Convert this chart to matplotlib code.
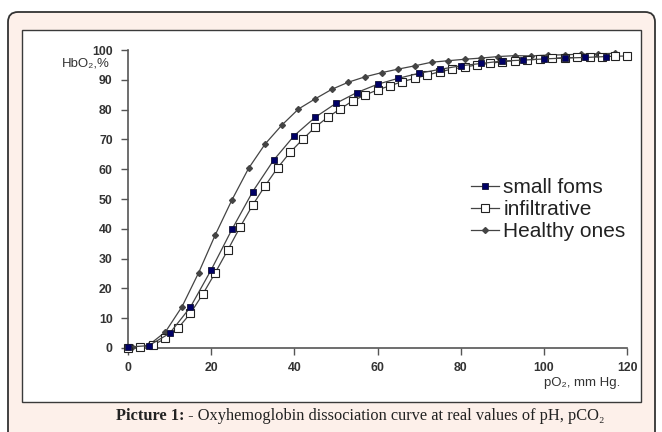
import matplotlib
matplotlib.use('Agg')
import numpy as np
from matplotlib import pyplot as plt
from matplotlib.patches import FancyBboxPatch, Rectangle

# readings
small_x = [0, 5, 10, 15, 20, 25, 30, 35, 40, 45, 50, 55, 60, 65, 70, 75, 80,
           85, 90, 95, 100, 105, 110, 115]
small_y = [0.3, 0.8, 4.9, 13.7, 26.2, 39.8, 52.5, 63.0, 71.3, 77.4, 82.1, 85.7,
           88.5, 90.5, 92.2, 93.5, 94.7, 95.5, 96.3, 96.6, 97.0, 97.3, 97.5, 97.8]

infil_x = [0, 3, 6, 9, 12, 15, 18, 21, 24, 27, 30, 33, 36, 39, 42, 45, 48, 51,
           54, 57, 60, 63, 66, 69, 72, 75, 78, 81, 84, 87, 90, 93, 96, 99, 102,
           105, 108, 111, 114, 117, 120]
infil_y = [0.0, 0.3, 1.0, 3.2, 6.6, 11.6, 18.1, 25.3, 32.9, 40.7, 48.0, 54.5,
           60.5, 65.7, 70.0, 74.1, 77.4, 80.2, 82.9, 84.9, 86.6, 88.0, 89.4,
           90.5, 91.6, 92.7, 93.6, 94.3, 95.0, 95.5, 96.1, 96.4, 96.6, 97.0,
           97.2, 97.4, 97.5, 97.8, 97.8, 97.9, 98.0]

healthy_x = [1, 5, 9, 13, 17, 21, 25, 29, 33, 37, 41, 45, 49, 53, 57, 61, 65,
             69, 73, 77, 81, 85, 89, 93, 97, 101, 105, 109, 113, 117]
healthy_y = [0.2, 1.0, 5.4, 13.9, 25.3, 38.0, 49.7, 60.3, 68.5, 74.8, 80.2,
             83.6, 86.8, 89.2, 91.0, 92.4, 93.6, 94.7, 95.9, 96.4, 96.9, 97.3,
             97.8, 98.1, 98.0, 98.3, 98.4, 98.6, 98.7, 98.9]

labels = ['small foms', 'infiltrative', 'Healthy ones']
x_ticks = [0, 20, 40, 60, 80, 100, 120]
y_ticks = [0, 10, 20, 30, 40, 50, 60, 70, 80, 90, 100]

W, H = 662, 432
fig = plt.figure(figsize=(W / 100, H / 100), dpi=100)
fig.patch.set_facecolor('white')

# page background, drawn in pixel units
bg = fig.add_axes([0, 0, 1, 1], zorder=-1)
bg.set_xlim(0, W)
bg.set_ylim(H, 0)
bg.axis('off')
bg.add_patch(Rectangle((0, 0), W, H, facecolor='white', edgecolor='none'))
bg.add_patch(FancyBboxPatch((8, 12), 647, 460,
                            boxstyle='round,pad=0,rounding_size=10',
                            facecolor='#fdf0ea', edgecolor='#333333', lw=1.3))
bg.add_patch(Rectangle((22, 30), 619, 372, facecolor='white',
                       edgecolor='#3a3a3a', lw=1.0))

ax = fig.add_axes([128 / W, 1 - 348 / H, (627 - 128) / W, (348 - 50) / H])
ax.patch.set_alpha(0)

line_col = '#444444'
ax.plot(healthy_x, healthy_y, color=line_col, lw=0.9, marker='D', ms=3.0,
        mfc='#444444', mec='#444444', label=labels[2], clip_on=False, zorder=3)
ax.plot(infil_x, infil_y, color=line_col, lw=0.9, marker='s', ms=5.2,
        mfc='white', mec='#222222', mew=0.8, label=labels[1], clip_on=False,
        zorder=4)
ax.plot(small_x, small_y, color=line_col, lw=0.9, marker='s', ms=4.8,
        mfc='#000066', mec='#111133', mew=0.6, label=labels[0], clip_on=False,
        zorder=5)

ax.set_xlim(0, 120)
ax.set_ylim(0, 100)
ax.set_xticks(x_ticks)
ax.set_yticks(y_ticks)
for s in ['top', 'right']:
    ax.spines[s].set_visible(False)
for s in ['left', 'bottom']:
    ax.spines[s].set_color('#555555')
    ax.spines[s].set_linewidth(1.2)
ax.tick_params(direction='out', length=5, width=1, color='#555555',
               labelsize=8.8, labelcolor='#333333', pad=6)
ax.tick_params(axis='x', pad=5)
for t in ax.get_xticklabels() + ax.get_yticklabels():
    t.set_fontfamily('Liberation Sans')
    t.set_fontweight('bold')

fig.text(62 / W, 1 - 57 / H, 'HbO\u2082,%', fontsize=9.5, color='#333333',
         family='Liberation Sans', ha='left', va='top')
fig.text(620 / W, 1 - 383 / H, 'pO\u2082, mm Hg.', fontsize=9.5,
         color='#333333', family='Liberation Sans', ha='right', va='center')

handles, labs = ax.get_legend_handles_labels()
order = [2, 1, 0]
leg = ax.legend([handles[i] for i in order], [labs[i] for i in order],
                loc='upper left', bbox_to_anchor=(471 / W, 1 - 178 / H),
                bbox_transform=fig.transFigure, frameon=False,
                prop={'family': 'Liberation Sans', 'size': 15},
                handlelength=1.35, handletextpad=0.2, labelspacing=0.15,
                borderpad=0, borderaxespad=0)
for t in leg.get_texts():
    t.set_color('#222222')

# caption with bold lead
cap_y = 1 - 416 / H
bold = fig.text(116 / W, cap_y, 'Picture 1:', fontsize=11.8,
                family='Liberation Serif', fontweight='bold', color='#222222',
                ha='left', va='center')
fig.canvas.draw()
bb = bold.get_window_extent(fig.canvas.get_renderer())
fig.text(bb.x1 / W, cap_y,
         ' - Oxyhemoglobin dissociation curve at real values of pH, pCO\u2082',
         fontsize=11.8, family='Liberation Serif', color='#222222',
         ha='left', va='center')

fig.savefig('out.png', dpi=100)
